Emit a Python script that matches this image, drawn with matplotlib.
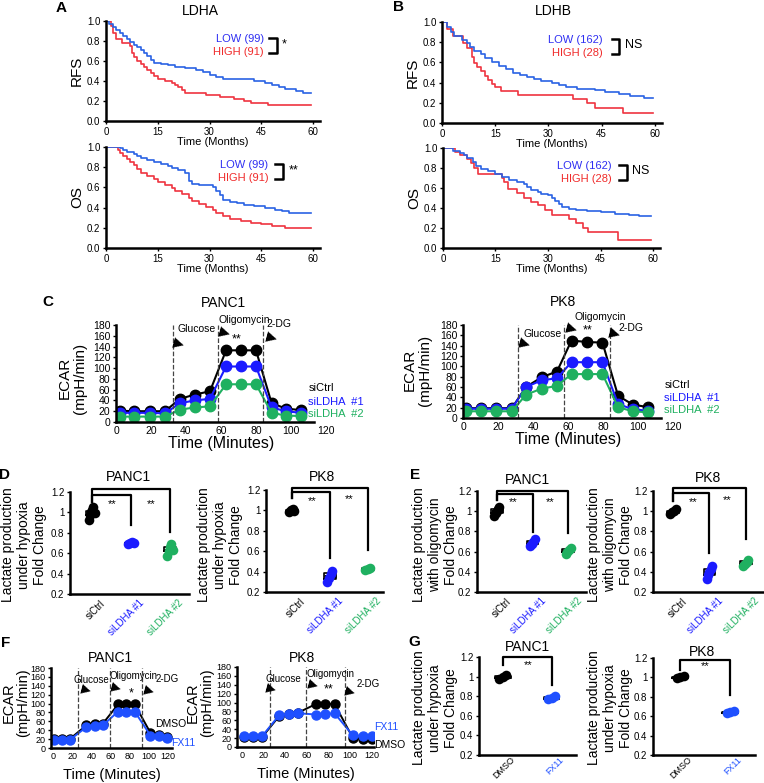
import matplotlib
matplotlib.use('Agg')
import matplotlib.pyplot as plt
import numpy as np

plt.rcParams['font.family'] = ['Liberation Sans', 'DejaVu Sans']

# ---- data ----
# Kaplan-Meier step curves (time in months, survival fraction)
ldha_rfs_low_t = [0, 1, 2, 3, 4, 5, 6, 7, 8, 9, 10, 11, 12, 13, 14, 16, 18, 20, 23, 26, 28, 30, 32, 34, 43, 46, 48, 50, 52, 55, 57]
ldha_rfs_low_s = [1, .97, .94, .91, .88, .85, .82, .79, .76, .74, .71, .68, .65, .61, .58, .57, .56, .54, .53, .51, .49, .46, .44, .42, .40, .38, .36, .34, .32, .30, .28]
ldha_rfs_high_t = [0, 1.5, 2, 3, 4.5, 7, 7.5, 8, 9, 10, 11, 12, 13, 14, 15, 17, 19, 20, 21, 22, 23, 29, 33, 37, 40, 42, 47]
ldha_rfs_high_s = [1, .95, .88, .82, .78, .75, .68, .64, .60, .57, .54, .51, .48, .45, .42, .40, .38, .36, .34, .31, .28, .26, .24, .22, .20, .18, .16]
ldha_os_low_t = [0, 4, 5, 6, 8, 9, 10, 12, 14, 16, 18, 19, 21, 23, 24, 25, 27, 31, 32, 33, 34, 36, 38, 40, 43, 46, 49, 51, 53]
ldha_os_low_s = [1, .99, .97, .95, .93, .91, .89, .87, .85, .83, .81, .79, .77, .74, .66, .63, .62, .60, .56, .52, .48, .46, .45, .43, .42, .40, .38, .37, .35]
ldha_os_high_t = [0, 3.5, 4, 5, 6, 7, 8, 9, 10, 12, 14, 15, 17, 19, 20, 22, 24, 25, 27, 29, 31, 32, 34, 36, 39, 42, 45, 48, 52]
ldha_os_high_s = [1, .97, .94, .91, .88, .85, .82, .78, .74, .71, .68, .65, .62, .59, .56, .53, .50, .47, .44, .41, .38, .35, .32, .29, .27, .25, .24, .22, .20]

ldhb_rfs_low_t = [0, 1.5, 2.5, 3.5, 5.5, 7, 8, 9, 11, 12, 14, 16, 18, 20, 22, 24, 26, 28, 31, 33, 35, 38, 43, 46, 50, 53, 57]
ldhb_rfs_low_s = [1, .95, .90, .86, .82, .79, .75, .71, .68, .64, .60, .56, .53, .50, .48, .46, .44, .42, .40, .38, .36, .34, .33, .31, .29, .27, .25]
ldhb_rfs_high_t = [0, 1.5, 3, 6, 7, 8.5, 9, 10, 11, 12, 13, 14, 15, 16.5, 21.5, 37, 41, 43, 51]
ldhb_rfs_high_s = [1, .93, .86, .79, .74, .65, .59, .55, .51, .47, .43, .39, .36, .32, .28, .24, .20, .15, .10]
ldhb_os_low_t = [0, 3, 5, 6, 7, 8.5, 9.5, 11, 13, 15, 17, 19, 21, 23, 24, 25, 27, 28, 30, 31, 32, 33, 34, 36, 38, 41, 45, 49, 53, 56]
ldhb_os_low_s = [1, .97, .95, .93, .90, .86, .82, .79, .77, .74, .71, .68, .66, .64, .61, .58, .56, .54, .53, .50, .47, .44, .41, .39, .38, .37, .36, .34, .33, .32]
ldhb_os_high_t = [0, 3.5, 5, 7, 8, 9, 10, 17, 17.5, 18.5, 21, 23, 25, 27, 29, 31, 36, 38, 40, 41.5, 50]
ldhb_os_high_s = [1, .96, .93, .89, .85, .80, .74, .70, .66, .59, .55, .50, .46, .43, .38, .33, .29, .25, .20, .16, .08]

# ECAR time courses (panel C)
c_panc1_t = [2, 10.5, 19.4, 28, 36.6, 45.1, 53.7, 62.9, 71.4, 80, 88.9, 97, 105.7]
c_panc1_ctrl = [21, 20, 20, 20, 43, 51, 57, 133, 133, 133, 35, 25, 22]
c_panc1_si1 = [17, 17, 17, 16, 35, 40, 43, 103, 103, 103, 27, 20, 17]
c_panc1_si2 = [10, 10, 10, 10, 23, 27, 29, 70, 70, 70, 17, 12, 11]
c_pk8_t = [1.9, 10.4, 19, 27.9, 36, 45, 53.7, 62, 71, 79.7, 88.6, 97, 105.7]
c_pk8_ctrl = [19, 19, 19, 19, 60, 79, 90, 150, 147, 146, 43, 26, 21]
c_pk8_si1 = [18, 18, 18, 18, 60, 73, 77, 108, 108, 108, 27, 17, 14]
c_pk8_si2 = [13, 13, 13, 13, 45, 57, 62, 85, 85, 85, 21, 13, 11]

# ECAR time courses (panel F)
f_panc1_t = [1, 9.4, 18, 34.8, 43.5, 52, 67.8, 76.5, 85.2, 101.6, 110, 119]
f_panc1_dmso = [21, 21, 21, 51, 53, 55, 98, 98, 98, 34, 29, 25]
f_panc1_fx11 = [19, 19, 19, 47, 50, 51, 82, 82, 82, 28, 26, 22]
f_pk8_t = [1.5, 9.8, 18.5, 34.5, 43.4, 51.7, 68.6, 77, 85.5, 102.5, 111.4, 120]
f_pk8_dmso = [22, 22, 22, 70, 74, 77, 97, 97, 97, 20, 19, 17]
f_pk8_fx11 = [24, 24, 24, 72, 74, 76, 73, 74, 76, 26, 25, 24]

# lactate fold change (panels D, E, G)
si_labels = ['siCtrl', 'siLDHA #1', 'siLDHA #2']
d_panc1 = [[0.93, 0.97, 1.0, 1.02, 1.05, 0.99], [0.69, 0.70, 0.71, 0.70], [0.57, 0.62, 0.66, 0.69, 0.63]]
d_pk8 = [[0.98, 1.0, 1.01, 0.99], [0.30, 0.34, 0.38, 0.41], [0.42, 0.43, 0.44]]
e_panc1 = [[0.95, 0.98, 1.0, 1.02, 1.04], [0.66, 0.68, 0.70, 0.72], [0.58, 0.60, 0.62, 0.64]]
e_pk8 = [[0.97, 0.99, 1.0, 1.02], [0.33, 0.37, 0.40, 0.43, 0.46], [0.46, 0.48, 0.50, 0.52]]
fx_labels = ['DMSO', 'FX11']
g_panc1 = [[0.98, 1.0, 1.02], [0.77, 0.78, 0.80]]
g_pk8 = [[0.99, 1.0, 1.01], [0.63, 0.64, 0.65]]

KM_BLUE = '#2a62e4'
KM_RED = '#ef3440'
TXT_BLUE = '#2f2ff2'
TXT_RED = '#f02b2b'
BLUE = '#1b1bff'
GREEN = '#1fb060'
FBLUE = '#1f50ff'

W, H = 764, 783
fig = plt.figure(figsize=(W / 100, H / 100), dpi=100)


def add_ax(x0, x1, ytop, ybot):
    return fig.add_axes([x0 / W, 1 - ybot / H, (x1 - x0) / W, (ybot - ytop) / H])


def ftext(x, y, s, **kw):
    kw.setdefault('ha', 'center')
    kw.setdefault('va', 'center')
    fig.text(x / W, 1 - y / H, s, **kw)


def style(ax, size=7):
    for side in ['top', 'right']:
        ax.spines[side].set_visible(False)
    for side in ['left', 'bottom']:
        ax.spines[side].set_linewidth(1.8)
    ax.tick_params(labelsize=size, length=2.5, width=1, pad=1.5)


def km_panel(ax, low, high, low_lab, high_lab, sig, lx, bx, ylab):
    for (t, s), c in zip([high, low], [KM_RED, KM_BLUE]):
        ax.step(t + [59.5], s + [s[-1]], where='post', color=c, lw=1.2)
    ax.set_xlim(0, 62)
    ax.set_ylim(0, 1.0)
    ax.set_xticks([0, 15, 30, 45, 60])
    ax.set_yticks(np.arange(0, 1.01, 0.2))
    ax.set_yticklabels(['%.1f' % v for v in np.arange(0, 1.01, 0.2)])
    style(ax, 7)
    ax.set_xlabel('Time (Months)', fontsize=8, labelpad=0)
    ax.set_ylabel(ylab, fontsize=11, labelpad=2)
    ax.text(lx, 0.82, low_lab, color=TXT_BLUE, fontsize=8, ha='right', va='center')
    ax.text(lx, 0.69, high_lab, color=TXT_RED, fontsize=8, ha='right', va='center')
    ax.plot([bx - 2.2, bx, bx, bx - 2.2], [0.83, 0.83, 0.68, 0.68], color='k', lw=1.8)
    ax.text(bx + 1.5, 0.77, sig, fontsize=9, ha='left', va='center')


# ---- A / B : Kaplan-Meier ----
ax = add_ax(106, 320, 21, 121)
km_panel(ax, (ldha_rfs_low_t, ldha_rfs_low_s), (ldha_rfs_high_t, ldha_rfs_high_s),
         'LOW (99)', 'HIGH (91)', '*', 45.8, 49.5, 'RFS')
ax = add_ax(106, 320, 147, 248)
km_panel(ax, (ldha_os_low_t, ldha_os_low_s), (ldha_os_high_t, ldha_os_high_s),
         'LOW (99)', 'HIGH (91)', '**', 47, 51.3, 'OS')
ax = add_ax(442, 662, 22, 123)
km_panel(ax, (ldhb_rfs_low_t, ldhb_rfs_low_s), (ldhb_rfs_high_t, ldhb_rfs_high_s),
         'LOW (162)', 'HIGH (28)', 'NS', 45.3, 50, 'RFS')
ax = add_ax(443, 660, 148, 248)
km_panel(ax, (ldhb_os_low_t, ldhb_os_low_s), (ldhb_os_high_t, ldhb_os_high_s),
         'LOW (162)', 'HIGH (28)', 'NS', 48.3, 52.6, 'OS')
ftext(200, 11, 'LDHA', fontsize=10)
ftext(553, 11, 'LDHB', fontsize=10)


def arrow(ax, x, y, size=10):
    ax.text(x, y, '\u25B6', fontsize=size, family='DejaVu Sans', rotation=-15,
            ha='center', va='center')


def ecar_c(ax, t, series, colors, vlines, notes, legend_x):
    for vals, c in zip(series, colors):
        ax.plot(t, vals, '-o', color=c, ms=7.5, lw=1.5)
    for v in vlines:
        ax.axvline(v, color='#444444', ls='--', lw=0.9, ymax=1.0)
    ax.set_xlim(0, 120)
    ax.set_ylim(0, 180)
    ax.spines['bottom'].set_bounds(0, 113)
    ax.set_xticks(range(0, 121, 20))
    ax.set_yticks(range(0, 181, 20))
    style(ax, 7.5)
    ax.tick_params(axis='x', length=0, pad=3)
    ax.set_xlabel('Time (Minutes)', fontsize=11.5, labelpad=0)
    for (x, y, s, kind) in notes:
        if kind == 'arrow':
            arrow(ax, x, y)
        else:
            ax.text(x, y, s, fontsize=7.5 if s != '**' else 9, ha='left', va='center')
    for lab, c, y in zip(['siCtrl', 'siLDHA  #1', 'siLDHA  #2'], colors, [63, 38, 15]):
        ax.text(legend_x, y, lab, color=c, fontsize=8, ha='left', va='center')


# ---- C ----
ax = add_ax(116, 326, 325, 422)
ecar_c(ax, c_panc1_t, [c_panc1_ctrl, c_panc1_si1, c_panc1_si2], ['k', BLUE, GREEN],
       [32.8, 58.5, 84.2],
       [(35, 172, 'Glucose', 't'), (36, 146, '', 'arrow'), (58.5, 190, 'Oligomycin', 't'),
        (62, 168, '', 'arrow'), (86, 181, '2-DG', 't'), (89, 158, '', 'arrow'),
        (66, 154, '**', 't')], 110)
ftext(72, 378, 'ECAR\n(mpH/min)', fontsize=11, rotation=90, linespacing=1.1)
ftext(223, 303, 'PANC1', fontsize=10)

ax = add_ax(463, 673, 325, 418)
ecar_c(ax, c_pk8_t, [c_pk8_ctrl, c_pk8_si1, c_pk8_si2], ['k', BLUE, GREEN],
       [31.3, 57.9, 83.9],
       [(34.5, 163, 'Glucose', 't'), (35, 145, '', 'arrow'), (63.6, 196, 'Oligomycin', 't'),
        (62, 175, '', 'arrow'), (89, 175, '2-DG', 't'), (86.8, 164, '', 'arrow'),
        (68.5, 170, '**', 't')], 115)
ftext(417, 370, 'ECAR\n(mpH/min)', fontsize=11, rotation=90, linespacing=1.1)
ftext(563, 302, 'PK8', fontsize=10)


def dot_panel(ax, groups, colors, labels, xlim, brackets, stars, lab_off, lab_size=7):
    for i, (vals, c) in enumerate(zip(groups, colors)):
        ax.boxplot([vals], positions=[i], widths=0.32, whis=0, showfliers=False,
                   showcaps=False, medianprops=dict(color='k', lw=2.2),
                   boxprops=dict(color='k', lw=1.2), whiskerprops=dict(lw=0))
        offs = np.linspace(-0.07, 0.07, len(vals))
        ax.scatter(i + offs, vals, s=48, color=c, zorder=3, lw=0)
    ax.set_xlim(*xlim)
    ax.set_ylim(0.2, 1.2)
    ax.set_yticks([0.2, 0.4, 0.6, 0.8, 1.0, 1.2])
    ax.set_yticklabels(['0.2', '0.4', '0.6', '0.8', '1', '1.2'])
    style(ax, 7)
    ax.set_xticks(range(len(labels)))
    ax.set_xticklabels([''] * len(labels))
    ax.tick_params(axis='x', length=0)
    # rotated category labels, right end just below/right of each category
    for i, (lab, c) in enumerate(zip(labels, colors)):
        ax.annotate(lab, xy=(i, 0), xycoords=('data', 'axes fraction'),
                    xytext=lab_off, textcoords='offset points', rotation=45,
                    rotation_mode='anchor', ha='right', va='top', fontsize=lab_size, color=c)
    for (x1, ytop, ystart, yend) in brackets:
        ax.plot([0, 0, x1, x1], [ystart, ytop, ytop, yend], color='k', lw=1.6, clip_on=False)
    for (x, y) in stars:
        ax.text(x, y, '**', fontsize=8, ha='center', va='center')


def ylab3(x, y, line2):
    ftext(x, y, 'Lactate production\n' + line2 + '\nFold Change', fontsize=10,
          rotation=90, linespacing=1.15)


SI_COLORS = ['k', BLUE, GREEN]

# ---- D ----
ax = add_ax(70, 189, 492, 594)
dot_panel(ax, d_panc1, SI_COLORS, si_labels, (-0.56, 2.49),
          [(2, 1.23, 1.1, 0.81), (1, 1.17, 1.1, 0.88)], [(0.51, 1.08), (1.51, 1.08)], (6, -3))
ylab3(24, 545, 'under hypoxia')
ftext(128, 477, 'PANC1', fontsize=10)

ax = add_ax(266, 383, 490, 592)
dot_panel(ax, d_pk8, SI_COLORS, si_labels, (-0.68, 2.4),
          [(2, 1.22, 1.12, 0.61), (1, 1.18, 1.12, 0.53)], [(0.53, 1.09), (1.5, 1.11)], (6, -3))
ylab3(220, 545, 'under hypoxia')
ftext(322, 477, 'PK8', fontsize=10)

# ---- E ----
ax = add_ax(477, 586, 491, 592)
dot_panel(ax, e_panc1, SI_COLORS, si_labels, (-0.56, 2.5),
          [(2, 1.2, 1.11, 0.78), (1, 1.17, 1.11, 0.79)], [(0.45, 1.09), (1.49, 1.09)], (6, -3))
ylab3(435, 545, 'with oligomycin')
ftext(527, 480, 'PANC1', fontsize=10)

ax = add_ax(653, 764, 491, 592)
dot_panel(ax, e_pk8, SI_COLORS, si_labels, (-0.55, 2.5),
          [(2, 1.23, 1.1, 0.72), (1, 1.18, 1.1, 0.59)], [(0.55, 1.09), (1.5, 1.11)], (6, -3))
ylab3(610, 545, 'with oligomycin')
ftext(708, 478, 'PK8', fontsize=10)

# ---- G ----
ax = add_ax(479, 576, 657, 755)
dot_panel(ax, g_panc1, ['k', FBLUE], fx_labels, (-0.49, 1.5),
          [(1, 1.2, 1.12, 0.91)], [(0.51, 1.12)], (5, 0), 6.5)
ylab3(435, 708, 'under hypoxia')
ftext(527, 647, 'PANC1', fontsize=10)

ax = add_ax(653, 755, 658, 755)
dot_panel(ax, g_pk8, ['k', FBLUE], fx_labels, (-0.54, 1.5),
          [(1, 1.18, 1.08, 0.82)], [(0.5, 1.12)], (5, 0), 6.5)
ylab3(610, 708, 'under hypoxia')
ftext(702, 652, 'PK8', fontsize=10)


def ecar_f(ax, t, dmso, fx11, vlines, xlim, notes, labels):
    ax.plot(t, dmso, '-o', color='k', ms=6.5, lw=1.4)
    ax.plot(t, fx11, '-o', color=FBLUE, ms=6.5, lw=1.4)
    for v in vlines:
        ax.axvline(v, color='#444444', ls='--', lw=0.9)
    ax.set_xlim(*xlim)
    ax.set_ylim(0, 180)
    ax.set_xticks(range(0, 121, 20))
    ax.set_yticks(range(0, 181, 20))
    style(ax, 6.5)
    ax.tick_params(axis='x', length=0, pad=3)
    ax.set_xlabel('Time (Minutes)', fontsize=10.5, labelpad=5)
    for (x, y, s, kind) in notes:
        if kind == 'arrow':
            arrow(ax, x, y, 9)
        else:
            ax.text(x, y, s, fontsize=7 if '*' not in s else 9, ha='left', va='center')
    for (x, y, s, c) in labels:
        ax.text(x, y, s, color=c, fontsize=7.5, ha='left', va='center')


# ---- F ----
ax = add_ax(51, 172, 668, 748)
ecar_f(ax, f_panc1_t, f_panc1_dmso, f_panc1_fx11, [26, 59, 93], (-2, 124),
       [(21.5, 154, 'Glucose', 't'), (34, 131, '', 'arrow'), (59, 163, 'Oligomycin', 't'),
        (66, 137, '', 'arrow'), (79, 122, '*', 't'), (107, 156, '2-DG', 't'),
        (100, 130, '', 'arrow')],
       [(106, 55, 'DMSO', 'k'), (123, 11, 'FX11', FBLUE)])
ftext(16, 703, 'ECAR\n(mpH/min)', fontsize=10.5, rotation=90, linespacing=1.1)
ftext(110, 658, 'PANC1', fontsize=10)

ax = add_ax(237, 374, 667, 747)
ecar_f(ax, f_pk8_t, f_pk8_dmso, f_pk8_fx11, [26, 59.5, 95], (-4.6, 122),
       [(22, 154, 'Glucose', 't'), (27, 132, '', 'arrow'), (60, 164, 'Oligomycin', 't'),
        (65.5, 142, '', 'arrow'), (76, 129, '**', 't'), (106, 142, '2-DG', 't'),
        (100, 126, '', 'arrow')],
       [(122, 46, 'FX11', FBLUE), (122, 4, 'DMSO', 'k')])
ftext(200, 703, 'ECAR\n(mpH/min)', fontsize=10.5, rotation=90, linespacing=1.1)
ftext(302, 658, 'PK8', fontsize=10)

# panel letters
for lab, x, y in [('A', 61, 8), ('B', 398, 7), ('C', 48, 302), ('D', 4, 475),
                  ('E', 415, 475), ('F', 6, 643), ('G', 414, 642)]:
    ftext(x, y, lab, fontsize=11, fontweight='bold')

fig.savefig('out.png', dpi=100)
